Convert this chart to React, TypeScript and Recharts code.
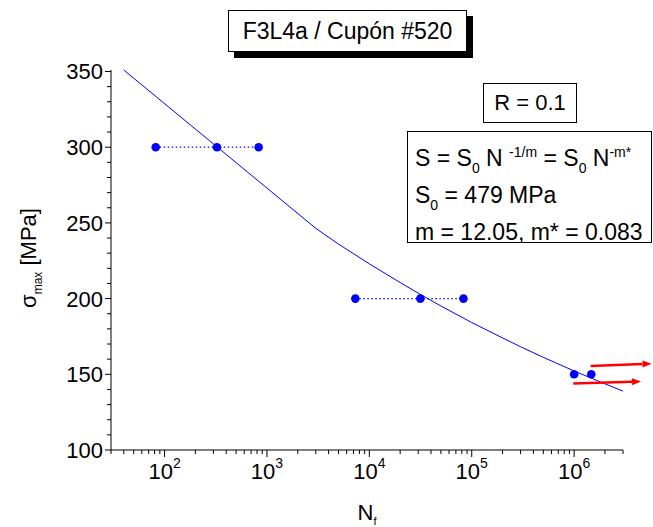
import React from 'react';
import { ComposedChart, Line, Scatter, XAxis, YAxis, ReferenceLine } from 'recharts';

// curva de ajuste S = S0 N^(-1/m)
const fitN = [40, 3000, 5000, 10000, 20000, 30000, 50000, 100000, 200000, 300000, 500000, 1000000, 2000000, 3000000];
const fitS = [351, 246.4, 236, 223, 210.6, 203.6, 195.1, 184.2, 174, 168.2, 161.2, 152.2, 143.7, 138.9];

// ensayos por nivel de tensión
const run300N = [82, 325, 830];
const run200N = [7300, 31500, 83000];
const run150N = [1000000, 1470000];

// flechas de run-out
const arrowFromN = [1450000, 980000];
const arrowFromS = [155.5, 143.9];
const arrowToN = [5700000, 4500000];
const arrowToS = [157, 145.2];

const xMajor = [100, 1000, 10000, 100000, 1000000];
const xMantissa = [2, 3, 4, 5, 6, 7, 8, 9];
const xDecades = [10, 100, 1000, 10000, 100000, 1000000];
const yMajor = [100, 150, 200, 250, 300, 350];

const BLUE = '#0000ff';
const FONT = '"Liberation Sans", Arial, sans-serif';

const fitData = fitN.map((n, i) => ({ N: n, S: fitS[i] }));
const toPts = (ns: number[], s: number) => ns.map((n) => ({ N: n, S: s }));
const dots = [...toPts(run300N, 300), ...toPts(run200N, 200), ...toPts(run150N, 150)];

const xTicks = [
  ...xMajor,
  ...xDecades.flatMap((d) => xMantissa.map((m) => m * d)).filter((v) => v >= 30 && v <= 3000000),
].sort((a, b) => a - b);
const yTicks: number[] = [];
for (let v = 100; v <= 350; v += 10) yTicks.push(v);

const XTick = ({ x, y, payload }: any) => {
  const v = payload.value;
  const e = Math.round(Math.log10(v));
  const major = xMajor.includes(v);
  return (
    <g>
      <line x1={x} x2={x} y1={y} y2={y + (major ? 7 : 4)} stroke="#000" />
      {major && (
        <text x={x} y={y + 29} textAnchor="middle" fontSize={22} fontFamily={FONT} fill="#000">
          10<tspan fontSize={14} dy={-11}>{e}</tspan>
        </text>
      )}
    </g>
  );
};

const YTick = ({ x, y, payload }: any) => {
  const major = yMajor.includes(payload.value);
  return (
    <g>
      <line x1={x} x2={x - (major ? 6 : 4)} y1={y} y2={y} stroke="#000" />
      {major && (
        <text x={x - 8} y={y} dy="0.36em" textAnchor="end" fontSize={22} fontFamily={FONT} fill="#000">
          {payload.value}
        </text>
      )}
    </g>
  );
};

const arrowShape = (p: any) => {
  const { x1, y1, x2, y2 } = p;
  const a = Math.atan2(y2 - y1, x2 - x1);
  const L = 9, hw = 3.5;
  const bx = x2 - L * Math.cos(a), by = y2 - L * Math.sin(a);
  const pts = [
    [x2, y2],
    [bx - hw * Math.sin(a), by + hw * Math.cos(a)],
    [bx + hw * Math.sin(a), by - hw * Math.cos(a)],
  ].map((q) => q.join(',')).join(' ');
  return (
    <g>
      <line x1={x1} y1={y1} x2={bx} y2={by} stroke="#ff0000" strokeWidth={2.5} />
      <polygon points={pts} fill="#ff0000" />
    </g>
  );
};

const sub = { fontSize: 14, position: 'relative' as const, top: 7 };
const sup = { fontSize: 14, position: 'relative' as const, top: -9 };

export default function App() {
  return (
    <div style={{ position: 'relative', width: 653, height: 527, fontFamily: FONT, background: '#fff' }}>
      <style>{'body{margin:0}'}</style>
      <ComposedChart width={653} height={527} margin={{ top: 70, right: 30, left: 0, bottom: 0 }}>
        <XAxis
          dataKey="N"
          type="number"
          scale="log"
          domain={[30, 3000000]}
          allowDataOverflow
          ticks={xTicks}
          interval={0}
          tick={<XTick />}
          tickLine={false}
          tickSize={0}
          tickMargin={0}
          height={77}
          axisLine={{ stroke: '#000' }}
        />
        <YAxis
          dataKey="S"
          type="number"
          domain={[100, 350]}
          ticks={yTicks}
          interval={0}
          tick={<YTick />}
          tickLine={false}
          tickSize={0}
          tickMargin={0}
          width={111}
          axisLine={{ stroke: '#000' }}
        />
        <Line data={fitData} dataKey="S" type="linear" stroke={BLUE} strokeWidth={1} dot={false} isAnimationActive={false} />
        <Line data={toPts(run300N, 300)} dataKey="S" stroke={BLUE} strokeWidth={1.2} strokeDasharray="1.5 2.5" dot={false} isAnimationActive={false} />
        <Line data={toPts(run200N, 200)} dataKey="S" stroke={BLUE} strokeWidth={1.2} strokeDasharray="1.5 2.5" dot={false} isAnimationActive={false} />
        <Scatter data={dots} dataKey="S" fill={BLUE} shape={(p: any) => <circle cx={p.cx} cy={p.cy} r={4.3} fill={BLUE} />} isAnimationActive={false} />
        {arrowFromN.map((n, i) => (
          <ReferenceLine
            key={i}
            segment={[{ x: n, y: arrowFromS[i] }, { x: arrowToN[i], y: arrowToS[i] }]}
            ifOverflow="visible"
            shape={arrowShape}
          />
        ))}
      </ComposedChart>

      {/* etiquetas de ejes */}
      <svg width={653} height={527} style={{ position: 'absolute', left: 0, top: 0, pointerEvents: 'none' }}>
        <text x={0} y={0} transform="translate(36,258) rotate(-90)" textAnchor="middle" fontSize={22} fontFamily={FONT} fill="#000">
          σ<tspan fontSize={12} dy={6}>max</tspan><tspan dy={-6}> [MPa]</tspan>
        </text>
        <text x={367} y={520} textAnchor="middle" fontSize={22} fontFamily={FONT} fill="#000">
          N<tspan fontSize={11} dy={5}>f</tspan>
        </text>
      </svg>

      <div style={{ position: 'absolute', left: 228, top: 10, width: 237, height: 40, border: '1px solid #000', background: '#fff', boxShadow: '6px 6px 0 #000', fontSize: 23, lineHeight: '40px', textAlign: 'center' }}>
        F3L4a / Cupón #520
      </div>

      <div style={{ position: 'absolute', left: 483, top: 83, width: 92, height: 38, border: '1px solid #000', background: '#fff', fontSize: 22, lineHeight: '38px', textAlign: 'center' }}>
        R = 0.1
      </div>

      <div style={{ position: 'absolute', left: 407, top: 131, width: 243, height: 110, border: '1px solid #000', background: '#fff', fontSize: 23, lineHeight: '34px' }}>
        <div style={{ paddingLeft: 7, paddingTop: 9, whiteSpace: 'nowrap' }}>
          <div>S = S<span style={sub}>0</span> N <span style={sup}>-1/m</span> = S<span style={sub}>0</span> N<span style={sup}>-m*</span></div>
          <div>S<span style={sub}>0</span> = 479 MPa</div>
          <div>m = 12.05, m* = 0.083</div>
        </div>
      </div>
    </div>
  );
}
